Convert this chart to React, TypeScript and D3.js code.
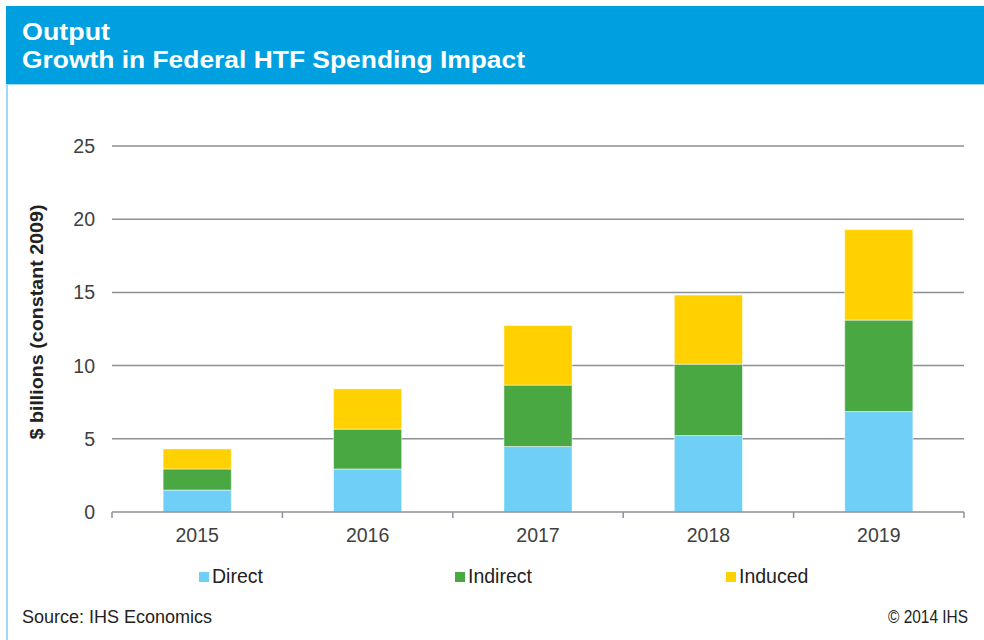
import React, { useRef, useEffect } from "react";
import * as d3 from "d3";

// chart values
const years = ["2015", "2016", "2017", "2018", "2019"];
const direct = [1.5, 2.94, 4.47, 5.22, 6.86];
const indirect = [1.44, 2.72, 4.2, 4.88, 6.25];
const induced = [1.37, 2.75, 4.07, 4.72, 6.18];
const seriesNames = ["Direct", "Indirect", "Induced"];
const yTicks = [0, 5, 10, 15, 20, 25];

const colors = ["#6fcff6", "#4aa843", "#ffd100"];
const width = 984;
const height = 640;
const plot = { left: 112, right: 964, top: 146, bottom: 512 };

const App = () => {
    const svgRef = useRef<SVGSVGElement>(null);

    useEffect(() => {
        const svg = d3.select(svgRef.current);
        svg.selectAll("*").remove();
        const font = "'Liberation Sans', Arial, sans-serif";

        // frame + header band
        svg.append("rect").attr("x", 0).attr("y", 0).attr("width", width).attr("height", height).attr("fill", "#fff");
        svg.append("line").attr("x1", 7).attr("x2", 7).attr("y1", 84).attr("y2", height)
            .attr("stroke", "#7fcdf0").attr("stroke-width", 1.5);
        svg.append("rect").attr("x", 6).attr("y", 6).attr("width", width - 6).attr("height", 78).attr("fill", "#009fdf");
        svg.append("line").attr("x1", 7).attr("x2", width).attr("y1", 84.5).attr("y2", 84.5)
            .attr("stroke", "#9fdcf5").attr("stroke-width", 1);

        const title = svg.append("text").attr("font-family", font).attr("font-weight", "bold")
            .attr("font-size", 23).attr("fill", "#fff");
        title.append("tspan").attr("x", 22).attr("y", 40).attr("textLength", 88).attr("lengthAdjust", "spacingAndGlyphs")
            .text("Output");
        title.append("tspan").attr("x", 22).attr("y", 68).attr("textLength", 503).attr("lengthAdjust", "spacingAndGlyphs")
            .text("Growth in Federal HTF Spending Impact");

        const x = d3.scaleBand().domain(years).range([plot.left, plot.right]).paddingInner(0.6).paddingOuter(0.3);
        const y = d3.scaleLinear().domain([0, 25]).range([plot.bottom, plot.top]);

        // gridlines
        svg.append("g").selectAll("line").data(yTicks.filter(d => d > 0)).enter().append("line")
            .attr("x1", plot.left).attr("x2", plot.right)
            .attr("y1", d => y(d)).attr("y2", d => y(d))
            .attr("stroke", "#8c9196").attr("stroke-width", 1.5);

        // y tick labels
        svg.append("g").selectAll("text").data(yTicks).enter().append("text")
            .attr("x", 95).attr("y", d => y(d) + 7)
            .attr("text-anchor", "end").attr("font-family", font).attr("font-size", 19.5).attr("fill", "#404040")
            .text(d => d);

        // stacked bars
        const rows = years.map((yr, i) => ({ year: yr, Direct: direct[i], Indirect: indirect[i], Induced: induced[i] }));
        const stacked = d3.stack<any>().keys(seriesNames)(rows);
        svg.append("g").selectAll("g").data(stacked).enter().append("g")
            .attr("fill", (d, i) => colors[i])
            .selectAll("rect").data(d => d).enter().append("rect")
            .attr("x", d => x(d.data.year) as number)
            .attr("width", x.bandwidth())
            .attr("y", d => y(d[1]))
            .attr("height", d => y(d[0]) - y(d[1]))
            .attr("stroke", "#ffffff").attr("stroke-opacity", 0.5).attr("stroke-width", 1);

        // x axis with category boundary ticks
        const step = (plot.right - plot.left) / years.length;
        const axis = svg.append("g");
        axis.append("line").attr("x1", plot.left).attr("x2", plot.right).attr("y1", y(0)).attr("y2", y(0))
            .attr("stroke", "#8c9196").attr("stroke-width", 1.5);
        axis.selectAll(".tick").data(d3.range(years.length + 1)).enter().append("line")
            .attr("x1", i => plot.left + i * step).attr("x2", i => plot.left + i * step)
            .attr("y1", y(0)).attr("y2", y(0) + 6)
            .attr("stroke", "#8c9196").attr("stroke-width", 1.5);
        axis.selectAll("text").data(years).enter().append("text")
            .attr("x", d => (x(d) as number) + x.bandwidth() / 2).attr("y", 542)
            .attr("text-anchor", "middle").attr("font-family", font).attr("font-size", 19.5).attr("fill", "#404040")
            .text(d => d);

        // y axis title
        svg.append("text").attr("transform", "translate(43,322) rotate(-90)")
            .attr("text-anchor", "middle").attr("font-family", font).attr("font-weight", "bold")
            .attr("font-size", 18).attr("fill", "#222")
            .attr("textLength", 235).attr("lengthAdjust", "spacingAndGlyphs")
            .text("$ billions (constant 2009)");

        // legend
        const legendX = [199, 455, 726];
        const legend = svg.append("g").selectAll("g").data(seriesNames).enter().append("g")
            .attr("transform", (d, i) => "translate(" + legendX[i] + ",0)");
        legend.append("rect").attr("x", 0).attr("y", 572).attr("width", 10).attr("height", 10)
            .attr("fill", (d, i) => colors[i]);
        legend.append("text").attr("x", 13).attr("y", 583).attr("font-family", font).attr("font-size", 19.5)
            .attr("fill", "#222").text(d => d);

        // footer
        svg.append("text").attr("x", 22).attr("y", 623).attr("font-family", font).attr("font-size", 18)
            .attr("fill", "#222").attr("textLength", 190).attr("lengthAdjust", "spacingAndGlyphs")
            .text("Source: IHS Economics");
        svg.append("text").attr("x", 888).attr("y", 623).attr("font-family", font)
            .attr("font-size", 18).attr("fill", "#222").attr("textLength", 80).attr("lengthAdjust", "spacingAndGlyphs")
            .text("© 2014 IHS");
    }, []);

    return (
        <div style={{ position: "absolute", left: 0, top: 0 }}>
            <svg ref={svgRef} width={width} height={height} style={{ display: "block" }}></svg>
        </div>
    );
};

export default App;
